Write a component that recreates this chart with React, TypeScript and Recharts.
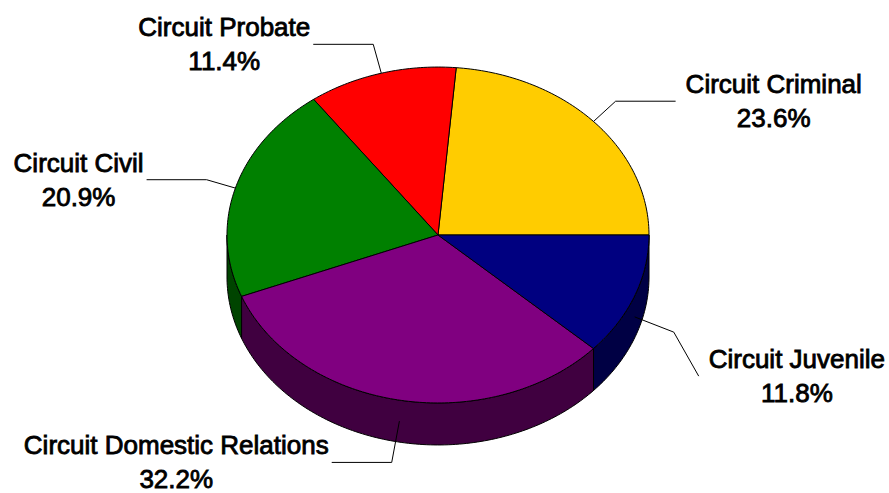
import React from 'react';
import { PieChart, Pie } from 'recharts';

// ---- data ----
const categories = [
  'Circuit Criminal',
  'Circuit Probate',
  'Circuit Civil',
  'Circuit Domestic Relations',
  'Circuit Juvenile',
];
const shares = [23.6, 11.4, 20.9, 32.2, 11.8];
const topColors = ['#FFCC00', '#FF0000', '#008000', '#800080', '#000080'];
const sideColors = ['#806600', '#800000', '#004400', '#400040', '#000044'];

// ---- layout ----
const W = 889;
const H = 493;
const TILT = 0.796; // vertical squash of the pie
const DEPTH = 42; // thickness of the 3D side wall
const FONT = '"Liberation Sans", Arial, sans-serif';
const FS = 26;
const FW = 'normal';
const TEXT_STROKE = 0.85;

const data = categories.map((name, i) => ({
  name,
  value: shares[i],
  fill: topColors[i],
  side: sideColors[i],
}));

const RAD = Math.PI / 180;
function pt(cx: number, cy: number, rx: number, ry: number, deg: number, dy = 0): [number, number] {
  return [cx + rx * Math.cos(deg * RAD), cy - ry * Math.sin(deg * RAD) + dy];
}
function arcPts(cx: number, cy: number, rx: number, ry: number, a1: number, a2: number, dy = 0) {
  const n = Math.max(2, Math.ceil(Math.abs(a2 - a1)));
  const out: [number, number][] = [];
  for (let k = 0; k <= n; k++) {
    const a = a1 + ((a2 - a1) * k) / n;
    out.push(pt(cx, cy, rx, ry, a, dy));
  }
  return out;
}
const toPath = (pts: [number, number][]) =>
  'M' + pts.map((p) => `${p[0].toFixed(2)},${p[1].toFixed(2)}`).join(' L') + ' Z';

function Slice3D(props: any) {
  const { cx, cy, outerRadius, startAngle, endAngle } = props;
  const fill = props.fill ?? props.payload?.fill;
  const side = props.side ?? props.payload?.side ?? props.payload?.payload?.side;
  const rx = outerRadius;
  const ry = outerRadius * TILT;
  const a1 = Math.min(startAngle, endAngle);
  const a2 = Math.max(startAngle, endAngle);
  const top: [number, number][] = [[cx, cy], ...arcPts(cx, cy, rx, ry, a1, a2)];
  const s1 = Math.max(a1, 180);
  const s2 = Math.min(a2, 360);
  let sidePath: string | null = null;
  if (s2 > s1) {
    const upper = arcPts(cx, cy, rx, ry, s1, s2);
    const lower = arcPts(cx, cy, rx, ry, s2, s1, DEPTH);
    sidePath = toPath([...upper, ...lower]);
  }
  return (
    <g>
      {sidePath && <path d={sidePath} fill={side} stroke="#000" strokeWidth={1} strokeLinejoin="round" />}
      <path d={toPath(top)} fill={fill} stroke="#000" strokeWidth={1} strokeLinejoin="round" />
    </g>
  );
}

let ctx: CanvasRenderingContext2D | null = null;
function textW(s: string) {
  if (!ctx) ctx = document.createElement('canvas').getContext('2d');
  if (!ctx) return s.length * FS * 0.52;
  ctx.font = `${FW} ${FS}px ${FONT}`;
  return ctx.measureText(s).width;
}

function renderLabel(props: any) {
  const { cx, cy, midAngle, outerRadius, name, value } = props;
  const rx = outerRadius;
  const ry = rx * TILT;
  const lower = Math.sin(midAngle * RAD) < 0;
  const [ax, ay] = pt(cx, cy, rx, ry, midAngle, lower ? DEPTH / 2 : 0);
  const ux = Math.cos(midAngle * RAD);
  const uy = -Math.sin(midAngle * RAD);
  const len = lower ? 42 : 30;
  const ex = ax + ux * len;
  const ey = ay + uy * len;
  const line1 = String(name);
  const line2 = `${Number(value).toFixed(1)}%`;
  const w = Math.max(textW(line1), textW(line2));
  const right = ux >= 0;
  let lx = ex + (right ? 60 : -60);
  let ly = ey;
  let bx: number;
  if (right) {
    let left = lx + 10;
    if (left + w > W - 4) {
      // not enough room: pull the label back inside and drop it below
      left = W - 4 - w;
      lx = left - 10;
      ly = ey + 44;
    }
    bx = left + w / 2;
  } else {
    let rgt = lx - 3;
    if (rgt - w < 4) {
      rgt = 4 + w;
      lx = rgt + 3;
      ly = ey + 44;
    }
    bx = rgt - w / 2;
  }
  const textProps = {
    textAnchor: 'middle' as const,
    fontFamily: FONT,
    fontSize: FS,
    fontWeight: FW,
    fill: '#000',
    stroke: '#000',
    strokeWidth: TEXT_STROKE,
  };
  return (
    <g key={`lbl-${name}`}>
      <polyline
        points={`${ax},${ay} ${ex},${ey} ${lx},${ly}`}
        fill="none"
        stroke="#000"
        strokeWidth={1}
      />
      <text x={bx} y={ly - 8} {...textProps}>
        {line1}
      </text>
      <text x={bx} y={ly + 26} {...textProps}>
        {line2}
      </text>
    </g>
  );
}

export default function App() {
  return (
    <div style={{ position: 'absolute', left: 0, top: 0, width: W, height: H, background: '#fff' }}>
      <PieChart width={W} height={H} margin={{ top: 0, right: 0, bottom: 0, left: 0 }}>
        <Pie
          data={data}
          dataKey="value"
          nameKey="name"
          cx={438}
          cy={235}
          outerRadius={211}
          startAngle={0}
          endAngle={360}
          isAnimationActive={false}
          shape={Slice3D}
          activeShape={Slice3D}
          inactiveShape={Slice3D}
          label={renderLabel}
          labelLine={false}
          stroke="#000"
        />
      </PieChart>
    </div>
  );
}
